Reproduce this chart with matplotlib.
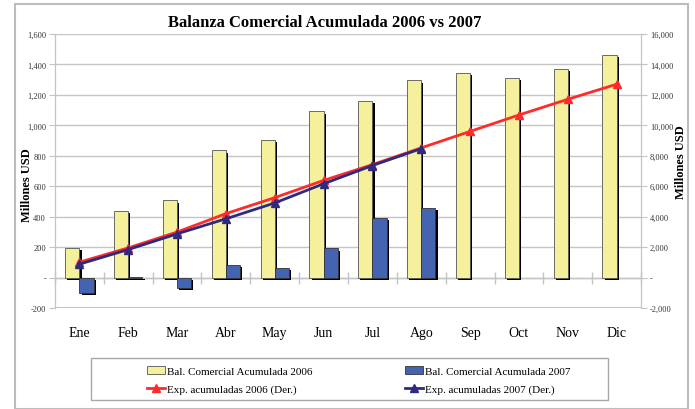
import numpy as np
import matplotlib
matplotlib.use("Agg")
import matplotlib.pyplot as plt
import matplotlib.patheffects as pe
from matplotlib.patches import Rectangle
from matplotlib.ticker import FuncFormatter, FixedLocator

plt.rcParams['font.family'] = ['Liberation Serif', 'DejaVu Serif']

months = ["Ene", "Feb", "Mar", "Abr", "May", "Jun", "Jul", "Ago", "Sep", "Oct", "Nov", "Dic"]
bal_2006 = [197, 438, 507, 835, 905, 1092, 1162, 1295, 1342, 1312, 1370, 1463]
bal_2007 = [-103, 5, -70, 82, 64, 191, 391, 460]
exp_2006 = [1010, 1950, 2990, 4200, 5250, 6380, 7420, 8520, 9600, 10680, 11710, 12700]
exp_2007 = [880, 1840, 2870, 3860, 4900, 6160, 7360, 8470]

yellow = "#F5F09C"
blue = "#4464B2"
red = "#FF2A2A"
navy = "#2E2A80"
grid_col = "#C4C4C4"

fig = plt.figure(figsize=(6.95, 4.10), dpi=100)
ax = fig.add_axes([55 / 695, 1 - 309 / 410, (641 - 55) / 695, (309 - 35) / 410])
ax2 = ax.twinx()

x = np.arange(len(months))
w = 0.29
shadow = [pe.SimplePatchShadow(offset=(1.6, -1.6), shadow_rgbFace='black', alpha=1.0), pe.Normal()]

b1 = ax.bar(x - w / 2, bal_2006, w, color=yellow, edgecolor="#555555", linewidth=0.6, zorder=3,
            label="Bal. Comercial Acumulada 2006")
b2 = ax.bar(x[:len(bal_2007)] + w / 2, bal_2007, w, color=blue, edgecolor="#333333", linewidth=0.6, zorder=3,
            label="Bal. Comercial Acumulada 2007")
for p in list(b1) + list(b2):
    p.set_path_effects(shadow)

l1, = ax2.plot(x, exp_2006, color=red, lw=2, marker="^", ms=6, mfc=red, mec=red, zorder=4,
               label="Exp. acumuladas 2006 (Der.)")
l2, = ax2.plot(x[:len(exp_2007)], exp_2007, color=navy, lw=2, marker="^", ms=6, mfc=navy, mec=navy, zorder=5,
               label="Exp. acumuladas 2007 (Der.)")

ax.set_xlim(-0.5, len(months) - 0.5)
ax.set_ylim(-200, 1600)
ax2.set_ylim(-2000, 16000)
ax.set_yticks(np.arange(-200, 1601, 200))
ax2.set_yticks(np.arange(-2000, 16001, 2000))

def fmt(v, pos):
    if v == 0:
        return "-"
    return "{:,.0f}".format(v)

ax.yaxis.set_major_formatter(FuncFormatter(fmt))
ax2.yaxis.set_major_formatter(FuncFormatter(fmt))

ax.grid(axis='y', color=grid_col, lw=1, zorder=0)
ax.set_axisbelow(True)
ax2.set_zorder(ax.get_zorder() + 1)
ax2.patch.set_visible(False)

# x axis: category boundary ticks on the zero line, labels below the plot
ax.spines['bottom'].set_position(('data', 0))
ax.spines['bottom'].set_color(grid_col)
ax.spines['bottom'].set_linewidth(1)
ax.set_xticks(x)
ax.set_xticklabels(months, fontsize=10)
ax.xaxis.set_minor_locator(FixedLocator(np.arange(-0.5, len(months), 1)))
ax.tick_params(axis='x', which='major', length=0, pad=35)
ax.tick_params(axis='x', which='minor', length=8, direction='inout', color=grid_col, width=1)

for a in (ax, ax2):
    a.spines['top'].set_visible(False)
    a.spines['left'].set_color(grid_col)
    a.spines['right'].set_color(grid_col)
ax2.spines['bottom'].set_visible(False)
ax.axhline(-200, color=grid_col, lw=1.5, zorder=0)

ax.tick_params(axis='y', labelsize=6, length=4, color=grid_col, labelcolor="#333333", pad=2.5)
ax2.tick_params(axis='y', labelsize=6, length=4, color=grid_col, labelcolor="#333333", pad=2.5)

fig.text(27 / 695, 1 - 185 / 410, "Millones USD", rotation=90, ha='center', va='center',
         fontsize=9, fontweight='bold')
fig.text(681 / 695, 1 - 162 / 410, "Millones USD", rotation=90, ha='center', va='center',
         fontsize=9, fontweight='bold')
fig.text(325 / 695, 1 - 23 / 410, "Balanza Comercial Acumulada 2006 vs 2007", ha='center', va='center',
         fontsize=12, fontweight='bold')

# outer chart border
fig.patches.append(Rectangle((15 / 695, 0), (688 - 15) / 695, 1 - 5 / 410, transform=fig.transFigure,
                             fill=False, edgecolor="#BDBDBD", lw=1.5))
# legend box
fig.patches.append(Rectangle((91 / 695, 1 - 401 / 410), (608 - 91) / 695, 42 / 410, transform=fig.transFigure,
                             fill=False, edgecolor="#A8A8A8", lw=1))

leg = fig.legend([b1, l1, b2, l2],
                 [b1.get_label(), l1.get_label(), b2.get_label(), l2.get_label()],
                 ncol=2, loc='center', bbox_to_anchor=(359 / 695, 1 - 381 / 410),
                 frameon=False, fontsize=8, handlelength=1.6, handletextpad=0.2,
                 columnspacing=8.3, labelspacing=0.7, numpoints=1)
for h in leg.legend_handles[::2]:
    h.set_path_effects([])

fig.savefig("out.png", dpi=100)
